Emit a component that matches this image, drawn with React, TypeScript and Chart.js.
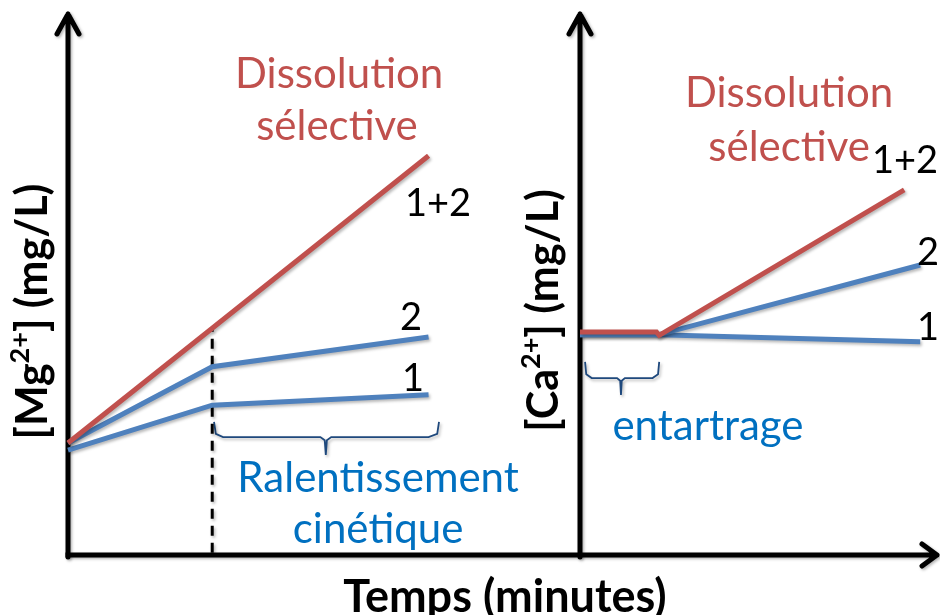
import React, { useEffect, useRef } from "react";
import { Chart, registerables } from "chart.js";

Chart.register(...registerables);

// ---------- Left panel: [Mg2+] ----------
const mgTime = [0, 4, 10];
const mgSel12 = [20.7, 41.9, 73.8];
const mgSel2 = [20.7, 34.8, 40.3];
const mgSel1 = [19.4, 27.7, 29.6];
const mgMarkerTime = [4, 4];
const mgMarkerLevel = [0.4, 41.6];
const mgBraceTime = [4.05, 4.1, 4.3, 7.0, 7.12, 7.15, 7.18, 7.3, 10.0, 10.24, 10.29];
const mgBraceLevel = [24.6, 22.4, 21.8, 21.8, 21.2, 18.5, 21.2, 21.8, 21.8, 22.4, 24.6];

// ---------- Right panel: [Ca2+] ----------
const caTime = [0, 2, 8.72];
const caTime12 = [0, 1.96, 2.03, 8.31];
const caSel12 = [41.2, 41.2, 40.6, 67.5];
const caSel2 = [40.7, 40.7, 53.6];
const caSel1 = [40.7, 40.7, 39.4];
const caBraceTime = [0.13, 0.16, 0.3, 0.95, 1.03, 1.05, 1.07, 1.15, 1.86, 2.0, 2.03];
const caBraceLevel = [35.7, 33.4, 32.7, 32.7, 32.2, 29.6, 32.2, 32.7, 32.7, 33.4, 35.7];

// ---------- Texts ----------
const curveNames = ["1+2", "2", "1"];
const dissolutionText = ["Dissolution", "sélective"];
const slowText = ["Ralentissement", "cinétique"];
const scalingText = "entartrage";
const mgTitle = ["[Mg", "2+", "] (mg/L)"];
const caTitle = ["[Ca", "2+", "] (mg/L)"];
const timeTitle = "Temps (minutes)";

const RED = "#C0504D";
const BLUE = "#4F81BD";
const TEXT_BLUE = "#0070C0";
const BRACE = "#1F497D";
const FONT = "Lato, 'Open Sans', sans-serif";

const pts = (xs: number[], ys: number[]) => xs.map((x, i) => ({ x, y: ys[i] }));

const lineDs = (label: string, xs: number[], ys: number[], color: string, extra: any = {}) => ({
  label,
  data: pts(xs, ys),
  showLine: true,
  borderColor: color,
  backgroundColor: color,
  borderWidth: 5,
  pointRadius: 0,
  tension: 0,
  clip: false,
  fill: false,
  ...extra,
});

type Label = { text: string; x: number; y: number; color: string; font: string };

type Decor = {
  xAxisFrom: number;
  xArrow: boolean;
  yTitle: string[];
  yTitleOffset: number;
  yTitleLevel: number;
  labels: Label[];
  footer?: Label;
};

function shadow(ctx: CanvasRenderingContext2D) {
  ctx.shadowColor = "rgba(0,0,0,0.30)";
  ctx.shadowBlur = 3;
  ctx.shadowOffsetX = 1.5;
  ctx.shadowOffsetY = 1.5;
}

function makePlugin(decor: Decor) {
  return {
    id: "decor",
    beforeDatasetsDraw(chart: any) {
      const ctx: CanvasRenderingContext2D = chart.ctx;
      const { left, right, top, bottom } = chart.chartArea;
      ctx.save();
      shadow(ctx);
      ctx.strokeStyle = "#000";
      ctx.lineWidth = 5;
      ctx.lineCap = "round";
      ctx.lineJoin = "round";
      ctx.beginPath();
      ctx.moveTo(left, bottom + 2);
      ctx.lineTo(left, top);
      ctx.moveTo(left - 11, top + 20);
      ctx.lineTo(left, top);
      ctx.lineTo(left + 11, top + 20);
      ctx.stroke();
      ctx.lineCap = decor.xArrow ? "round" : "butt";
      ctx.beginPath();
      ctx.moveTo(left + decor.xAxisFrom, bottom);
      ctx.lineTo(right, bottom);
      if (decor.xArrow) {
        ctx.moveTo(right - 15, bottom - 11);
        ctx.lineTo(right, bottom);
        ctx.lineTo(right - 15, bottom + 11);
      }
      ctx.stroke();
      ctx.restore();
    },
    beforeDatasetDraw(chart: any) {
      const ctx: CanvasRenderingContext2D = chart.ctx;
      ctx.save();
      ctx.shadowColor = "rgba(0,0,0,0.28)";
      ctx.shadowBlur = 3;
      ctx.shadowOffsetX = 1.5;
      ctx.shadowOffsetY = 2;
    },
    afterDatasetDraw(chart: any) {
      chart.ctx.restore();
    },
    afterDraw(chart: any) {
      const ctx: CanvasRenderingContext2D = chart.ctx;
      const xs = chart.scales.x;
      const ys = chart.scales.y;
      const { left } = chart.chartArea;
      ctx.save();
      const drawLabel = (l: Label) => {
        ctx.font = l.font;
        ctx.fillStyle = l.color;
        ctx.textAlign = "center";
        ctx.textBaseline = "alphabetic";
        ctx.fillText(l.text, xs.getPixelForValue(l.x), ys.getPixelForValue(l.y));
      };
      decor.labels.forEach(drawLabel);
      if (decor.footer) drawLabel(decor.footer);

      const size = 43;
      const big = `bold ${size}px ${FONT}`;
      const small = `bold ${Math.round(size * 0.62)}px ${FONT}`;
      const [a, sup, b] = decor.yTitle;
      ctx.font = big;
      const wa = ctx.measureText(a).width;
      const wb = ctx.measureText(b).width;
      ctx.font = small;
      const ws = ctx.measureText(sup).width;
      const total = wa + ws + wb;
      ctx.translate(left + decor.yTitleOffset, ys.getPixelForValue(decor.yTitleLevel));
      ctx.rotate(-Math.PI / 2);
      ctx.fillStyle = "#000";
      ctx.textAlign = "left";
      ctx.textBaseline = "middle";
      let cx = -total / 2;
      ctx.font = big;
      ctx.fillText(a, cx, 0);
      cx += wa;
      ctx.font = small;
      ctx.fillText(sup, cx, -size * 0.3);
      cx += ws;
      ctx.font = big;
      ctx.fillText(b, cx, 0);
      ctx.restore();
    },
  };
}

function baseOptions(xMax: number, padding: any) {
  return {
    responsive: false,
    animation: false as const,
    devicePixelRatio: 1,
    layout: { padding },
    scales: {
      x: { type: "linear" as const, display: false, min: 0, max: xMax },
      y: { type: "linear" as const, display: false, min: 0, max: 100 },
    },
    plugins: { legend: { display: false }, tooltip: { enabled: false } },
  };
}

const labelFont = `42px ${FONT}`;
const numFont = `38px ${FONT}`;

export default function App() {
  const leftRef = useRef<HTMLCanvasElement>(null);
  const rightRef = useRef<HTMLCanvasElement>(null);

  useEffect(() => {
    const leftDecor: Decor = {
      xAxisFrom: -2.5,
      xArrow: false,
      yTitle: mgTitle,
      yTitleOffset: -35,
      yTitleLevel: 45,
      labels: [
        { text: dissolutionText[0], x: 7.52, y: 86.3, color: RED, font: labelFont },
        { text: dissolutionText[1], x: 7.46, y: 76.7, color: RED, font: labelFont },
        { text: curveNames[0], x: 10.26, y: 62.7, color: "#000", font: numFont },
        { text: curveNames[1], x: 9.51, y: 41.6, color: "#000", font: numFont },
        { text: curveNames[2], x: 9.57, y: 30.3, color: "#000", font: numFont },
        { text: slowText[0], x: 8.6, y: 11.6, color: TEXT_BLUE, font: labelFont },
        { text: slowText[1], x: 8.6, y: 2.2, color: TEXT_BLUE, font: labelFont },
      ],
      footer: { text: timeTitle, x: 12.12, y: -10.6, color: "#000", font: `bold 45px ${FONT}` },
    };
    const rightDecor: Decor = {
      xAxisFrom: 0,
      xArrow: true,
      yTitle: caTitle,
      yTitleOffset: -36,
      yTitleLevel: 45.2,
      labels: [
        { text: dissolutionText[0], x: 5.36, y: 82.8, color: RED, font: labelFont },
        { text: dissolutionText[1], x: 5.36, y: 72.8, color: RED, font: labelFont },
        { text: curveNames[0], x: 8.33, y: 70.6, color: "#000", font: numFont },
        { text: curveNames[1], x: 8.92, y: 53.6, color: "#000", font: numFont },
        { text: curveNames[2], x: 8.92, y: 39.7, color: "#000", font: numFont },
        { text: scalingText, x: 3.28, y: 21.3, color: TEXT_BLUE, font: labelFont },
      ],
    };

    const left = new Chart(leftRef.current!, {
      type: "scatter",
      data: {
        datasets: [
          lineDs("1+2", mgTime, mgSel12, RED),
          lineDs("2", mgTime, mgSel2, BLUE),
          lineDs("1", mgTime, mgSel1, BLUE),
          lineDs("marker", mgMarkerTime, mgMarkerLevel, "#000", { borderWidth: 3, borderDash: [10, 7] }),
          lineDs("brace", mgBraceTime, mgBraceLevel, BRACE, { borderWidth: 1.8 }),
        ],
      },
      options: baseOptions(14.2, { left: 68, right: 360, top: 14, bottom: 60 }) as any,
      plugins: [makePlugin(leftDecor)],
    });

    const right = new Chart(rightRef.current!, {
      type: "scatter",
      data: {
        datasets: [
          lineDs("1+2", caTime12, caSel12, RED),
          lineDs("2", caTime, caSel2, BLUE),
          lineDs("1", caTime, caSel1, BLUE),
          lineDs("brace", caBraceTime, caBraceLevel, BRACE, { borderWidth: 1.8 }),
        ],
      },
      options: baseOptions(9.15, { left: 580, right: 3, top: 14, bottom: 60 }) as any,
      plugins: [makePlugin(rightDecor)],
    });

    return () => {
      left.destroy();
      right.destroy();
    };
  }, []);

  const canvasStyle: React.CSSProperties = { position: "absolute", left: 0, top: 0 };
  return (
    <div style={{ position: "absolute", left: 0, top: 0, width: 940, height: 615, background: "#fff" }}>
      <canvas ref={leftRef} width={940} height={615} style={canvasStyle} />
      <canvas ref={rightRef} width={940} height={615} style={canvasStyle} />
    </div>
  );
}
